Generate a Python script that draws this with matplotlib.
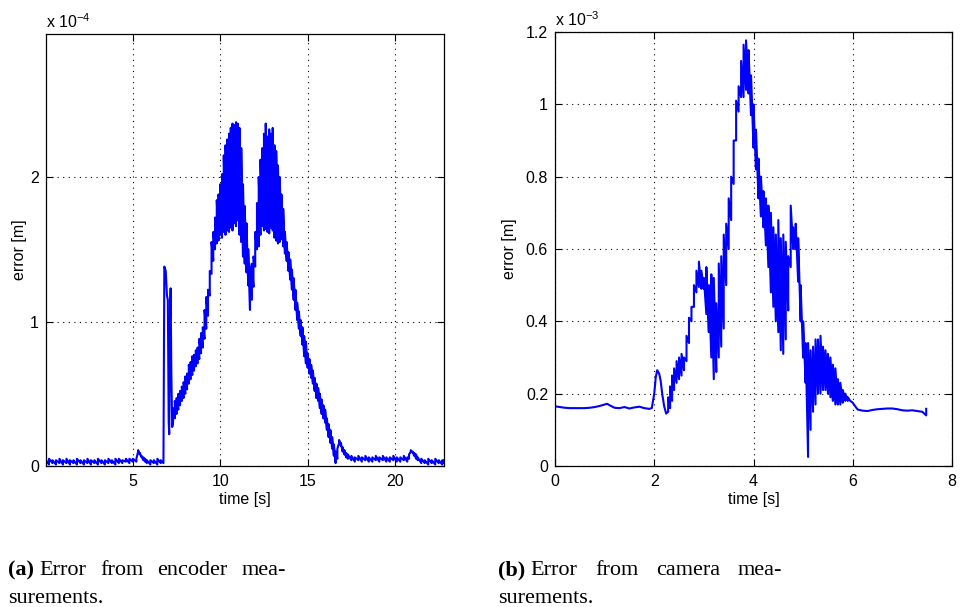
import numpy as np
import matplotlib
matplotlib.use("Agg")
import matplotlib.pyplot as plt

# ---------------- data: encoder error (x 1e-4 m) ----------------
# each sample: time, lower and upper value of the fast oscillation
enc_t = [0.03, 0.2, 0.4, 0.6, 0.8, 1.0, 1.2, 1.4, 1.6, 1.8, 2.0, 2.2, 2.4, 2.6, 2.8, 3.0,
         3.2, 3.4, 3.6, 3.8, 4.0, 4.2, 4.4, 4.6, 4.8, 5.0, 5.2, 5.3, 5.4, 5.5, 5.6, 5.7,
         5.8, 6.0, 6.2, 6.4, 6.6, 6.75, 6.80, 6.88, 6.95, 7.0, 7.05, 7.08, 7.12, 7.16,
         7.2, 7.25,
         7.3, 7.4, 7.5, 7.6, 7.7, 7.8, 7.9, 8.0, 8.1, 8.2, 8.3, 8.4, 8.5, 8.6, 8.7, 8.8,
         8.9, 9.0, 9.1, 9.2, 9.3, 9.4, 9.5, 9.6, 9.7, 9.8, 9.9, 10.0, 10.1, 10.2, 10.3,
         10.4, 10.5, 10.6, 10.7, 10.8, 10.9, 11.0, 11.1, 11.2, 11.3, 11.4, 11.5, 11.6,
         11.7, 11.8, 11.9, 12.0, 12.1, 12.2, 12.3, 12.4, 12.5, 12.6, 12.7, 12.8, 12.9,
         13.0, 13.1, 13.2, 13.3, 13.4, 13.5, 13.6, 13.7, 13.8, 13.9, 14.0, 14.1, 14.2,
         14.3, 14.4, 14.5, 14.6, 14.7, 14.8, 14.9, 15.0, 15.1, 15.2, 15.3, 15.4, 15.5,
         15.6, 15.7, 15.8, 15.9, 16.0, 16.1, 16.2, 16.3, 16.4, 16.5, 16.6, 16.7, 16.8,
         16.9, 17.0, 17.1, 17.2, 17.3, 17.5, 17.7, 17.9, 18.1, 18.3, 18.5, 18.7, 18.9,
         19.1, 19.3, 19.5, 19.7, 19.9, 20.1, 20.3, 20.5, 20.7, 20.8, 20.9, 21.0, 21.1,
         21.2, 21.3, 21.5, 21.7, 21.9, 22.1, 22.3, 22.5, 22.7, 22.8]
enc_lo = [0.02, 0.01, 0.02, 0.01, 0.02, 0.01, 0.02, 0.01, 0.02, 0.01, 0.02, 0.01, 0.02, 0.01, 0.02, 0.01,
          0.02, 0.01, 0.02, 0.02, 0.01, 0.02, 0.02, 0.03, 0.02, 0.03, 0.03, 0.10, 0.08, 0.06, 0.04, 0.03,
          0.02, 0.01, 0.02, 0.01, 0.02, 0.02, 1.38, 1.35, 1.18, 1.15, 0.30, 0.22, 1.00, 1.23,
          0.65, 0.27,
          0.30, 0.33, 0.36, 0.39, 0.42, 0.45, 0.47, 0.50, 0.53, 0.57, 0.60, 0.63, 0.66, 0.69, 0.71, 0.74,
          0.78, 0.82, 0.88, 0.95, 1.04, 1.18, 1.33, 1.42, 1.50, 1.54, 1.56, 1.60, 1.58, 1.62, 1.60,
          1.63, 1.62, 1.65, 1.63, 1.68, 1.66, 1.70, 1.60, 1.55, 1.45, 1.40, 1.34, 1.25,
          1.08, 1.15, 1.24, 1.38, 1.50, 1.52, 1.60, 1.66, 1.63, 1.64, 1.62, 1.61, 1.65,
          1.63, 1.58, 1.56, 1.54, 1.55, 1.57, 1.52, 1.47, 1.42, 1.35, 1.29, 1.22, 1.15,
          1.08, 1.01, 0.95, 0.90, 0.84, 0.76, 0.71, 0.68, 0.64, 0.61, 0.57, 0.52, 0.47,
          0.45, 0.40, 0.36, 0.33, 0.30, 0.25, 0.20, 0.16, 0.12, 0.07, 0.02, 0.05, 0.16,
          0.14, 0.10, 0.08, 0.06, 0.05, 0.04, 0.03, 0.04, 0.03, 0.04, 0.03, 0.03, 0.04,
          0.03, 0.04, 0.03, 0.03, 0.04, 0.03, 0.03, 0.04, 0.03, 0.05, 0.10, 0.09, 0.07,
          0.05, 0.04, 0.02, 0.02, 0.01, 0.02, 0.01, 0.02, 0.01, 0.02]
enc_hi = [0.04, 0.05, 0.04, 0.04, 0.05, 0.04, 0.05, 0.04, 0.04, 0.05, 0.04, 0.04, 0.05, 0.04, 0.04, 0.05,
          0.04, 0.04, 0.05, 0.04, 0.05, 0.05, 0.04, 0.05, 0.05, 0.05, 0.05, 0.11, 0.09, 0.07, 0.06, 0.05,
          0.04, 0.04, 0.04, 0.05, 0.04, 0.05, 1.38, 1.35, 1.18, 1.15, 0.30, 0.22, 1.00, 1.23,
          0.65, 0.27,
          0.40, 0.45, 0.47, 0.50, 0.52, 0.55, 0.58, 0.62, 0.64, 0.70, 0.72, 0.76, 0.77, 0.80, 0.82, 0.88,
          0.92, 0.96, 1.08, 1.17, 1.22, 1.35, 1.55, 1.62, 1.72, 1.84, 1.88, 1.95, 2.02, 2.15, 2.22,
          2.26, 2.30, 2.34, 2.37, 2.36, 2.38, 2.37, 2.34, 2.20, 1.95, 1.80, 1.68, 1.50,
          1.38, 1.40, 1.45, 1.62, 1.82, 2.00, 2.12, 2.20, 2.30, 2.37, 2.28, 2.33, 2.30,
          2.34, 2.22, 2.18, 2.08, 2.00, 1.88, 1.78, 1.62, 1.55, 1.48, 1.43, 1.36, 1.30,
          1.22, 1.13, 1.07, 1.01, 0.96, 0.90, 0.86, 0.78, 0.74, 0.70, 0.66, 0.61, 0.57,
          0.54, 0.50, 0.46, 0.42, 0.39, 0.33, 0.29, 0.25, 0.20, 0.15, 0.10, 0.12, 0.18,
          0.16, 0.13, 0.11, 0.09, 0.08, 0.07, 0.06, 0.07, 0.06, 0.07, 0.06, 0.06, 0.07,
          0.06, 0.07, 0.06, 0.06, 0.07, 0.06, 0.06, 0.07, 0.06, 0.08, 0.11, 0.10, 0.09,
          0.08, 0.06, 0.05, 0.04, 0.05, 0.04, 0.05, 0.04, 0.04, 0.04]

# ---------------- data: camera error (x 1e-3 m) ----------------
cam_t = [0.0, 0.1, 0.2, 0.3, 0.4, 0.5, 0.6, 0.7, 0.8, 0.9, 1.0, 1.05, 1.1, 1.2, 1.3, 1.4,
         1.5, 1.6, 1.7, 1.8, 1.9, 1.95, 2.0, 2.03, 2.06, 2.1, 2.13, 2.16, 2.2, 2.24,
         2.28, 2.32, 2.36, 2.40, 2.45, 2.50, 2.55, 2.60, 2.65, 2.70, 2.75, 2.80, 2.85,
         2.90, 2.95, 3.00, 3.05, 3.10, 3.15, 3.20, 3.25, 3.30, 3.35, 3.40, 3.45, 3.50,
         3.55, 3.60, 3.65, 3.70, 3.75, 3.80, 3.85, 3.90, 3.95, 4.00, 4.05, 4.10, 4.15,
         4.20, 4.25, 4.30, 4.35, 4.40, 4.45, 4.50, 4.55, 4.60, 4.65, 4.70, 4.75, 4.80,
         4.85, 4.90, 4.95, 5.00, 5.05, 5.10, 5.15, 5.20, 5.25, 5.30, 5.35, 5.40, 5.45,
         5.50, 5.55, 5.60, 5.65, 5.70, 5.75, 5.80, 5.85, 5.90, 5.95, 6.00, 6.05, 6.1,
         6.2, 6.3, 6.4, 6.5, 6.6, 6.7, 6.8, 6.9, 7.0, 7.1, 7.2, 7.3, 7.4, 7.48]
cam_lo = [0.165, 0.163, 0.161, 0.160, 0.160, 0.160, 0.160, 0.161, 0.163, 0.166, 0.170, 0.172, 0.168, 0.161, 0.160, 0.163,
          0.159, 0.162, 0.164, 0.160, 0.158, 0.160, 0.200, 0.245, 0.265, 0.255, 0.235, 0.200, 0.165, 0.145,
          0.15, 0.16, 0.18, 0.21, 0.23, 0.24, 0.25, 0.265, 0.29, 0.34, 0.40, 0.44, 0.48,
          0.495, 0.49, 0.49, 0.42, 0.37, 0.30, 0.24, 0.26, 0.30, 0.33, 0.38, 0.50, 0.60,
          0.68, 0.78, 0.90, 0.98, 1.02, 1.02, 1.04, 1.03, 0.97, 0.88, 0.82, 0.74, 0.69,
          0.66, 0.61, 0.55, 0.48, 0.44, 0.40, 0.37, 0.32, 0.31, 0.35, 0.43, 0.55, 0.60,
          0.60, 0.51, 0.40, 0.30, 0.23, 0.025, 0.10, 0.15, 0.17, 0.20, 0.20, 0.21, 0.21,
          0.20, 0.19, 0.18, 0.17, 0.17, 0.17, 0.175, 0.18, 0.18, 0.18, 0.175, 0.165, 0.156,
          0.153, 0.152, 0.155, 0.157, 0.158, 0.159, 0.159, 0.157, 0.154, 0.153, 0.154, 0.152, 0.150, 0.140]
cam_hi = [0.165, 0.163, 0.161, 0.160, 0.160, 0.160, 0.160, 0.161, 0.163, 0.166, 0.170, 0.172, 0.168, 0.161, 0.160, 0.163,
          0.159, 0.162, 0.164, 0.160, 0.158, 0.160, 0.200, 0.245, 0.265, 0.255, 0.235, 0.200, 0.165, 0.145,
          0.19, 0.22, 0.25, 0.27, 0.29, 0.30, 0.31, 0.30, 0.36, 0.41, 0.44, 0.50, 0.54,
          0.565, 0.54, 0.52, 0.55, 0.50, 0.53, 0.52, 0.45, 0.56, 0.58, 0.64, 0.67, 0.74,
          0.80, 0.90, 1.01, 1.05, 1.12, 1.165, 1.177, 1.15, 1.08, 1.00, 0.93, 0.85, 0.80,
          0.76, 0.74, 0.72, 0.70, 0.66, 0.64, 0.68, 0.63, 0.64, 0.62, 0.58, 0.72, 0.66,
          0.67, 0.63, 0.50, 0.40, 0.34, 0.34, 0.32, 0.33, 0.35, 0.35, 0.36, 0.33, 0.32,
          0.31, 0.30, 0.28, 0.27, 0.24, 0.23, 0.21, 0.20, 0.19, 0.18, 0.175, 0.165, 0.156,
          0.153, 0.152, 0.155, 0.157, 0.158, 0.159, 0.159, 0.157, 0.154, 0.153, 0.154, 0.152, 0.150, 0.158]

enc_xticks = [5, 10, 15, 20]
enc_yticks = [0, 1, 2]
cam_xticks = [0, 2, 4, 6, 8]
cam_yticks = [0, 0.2, 0.4, 0.6, 0.8, 1.0, 1.2]
cam_yticklabels = ["0", "0.2", "0.4", "0.6", "0.8", "1", "1.2"]

x_label = "time [s]"
y_label = "error [m]"
caption_a = ["(a)", "Error", "from", "encoder", "mea-"]
caption_a2 = "surements."
caption_b = ["(b)", "Error", "from", "camera", "mea-"]
caption_b2 = "surements."


def zigzag(t, lo, hi):
    x = np.repeat(np.asarray(t, float), 2)
    y = np.column_stack([lo, hi]).ravel()
    return x, y


plt.rcParams["font.family"] = ["Liberation Sans", "DejaVu Sans"]
plt.rcParams["mathtext.fontset"] = "custom"
plt.rcParams["mathtext.rm"] = "Liberation Sans"

FS = 11.5
fig = plt.figure(figsize=(9.6, 6.07), dpi=100)
ax1 = fig.add_axes([46 / 960, 1 - 466 / 607, 398 / 960, 432 / 607])
ax2 = fig.add_axes([555 / 960, 1 - 466 / 607, 397 / 960, 434 / 607])


def style(ax, ylpad):
    ax.grid(True, linestyle=(0, (1, 4)), color="black", linewidth=0.8)
    ax.tick_params(direction="in", top=True, right=True, length=5, width=0.8,
                   labelsize=FS)
    ax.tick_params(axis="x", pad=6)
    ax.tick_params(axis="y", pad=5)
    for s in ax.spines.values():
        s.set_linewidth(0.9)
    ax.set_xlabel(x_label, fontsize=FS, labelpad=2)
    ax.set_ylabel(y_label, fontsize=FS, labelpad=ylpad)


x, y = zigzag(enc_t, enc_lo, enc_hi)
ax1.plot(x, y, color="#0000ff", linewidth=1.5)
ax1.set_xlim(0.03, 22.8)
ax1.set_ylim(0, 2.99)
ax1.set_xticks(enc_xticks)
ax1.set_yticks(enc_yticks)
style(ax1, 2)
ax1.text(0.0, 1.008, r"x 10$^{-4}$", transform=ax1.transAxes, fontsize=FS,
         ha="left", va="bottom")

x, y = zigzag(cam_t, cam_lo, cam_hi)
ax2.plot(x, y, color="#0000ff", linewidth=1.5)
ax2.set_xlim(0, 8)
ax2.set_ylim(0, 1.2)
ax2.set_xticks(cam_xticks)
ax2.set_yticks(cam_yticks)
ax2.set_yticklabels(cam_yticklabels)
style(ax2, 6)
ax2.text(0.0, 1.008, r"x 10$^{-3}$", transform=ax2.transAxes, fontsize=FS,
         ha="left", va="bottom")

serif = ["Liberation Serif", "DejaVu Serif"]
CFS = 16


def caption(x0_px, x1_px, words, line2):
    fig.canvas.draw()
    r = fig.canvas.get_renderer()
    y1 = 1 - 575 / 607
    arts = []
    for i, w in enumerate(words):
        a = fig.text(0, y1, w, fontsize=CFS, family=serif,
                     fontweight="bold" if i == 0 else "normal",
                     ha="left", va="baseline")
        arts.append(a)
    widths = [a.get_window_extent(r).width for a in arts]
    first_gap = 5
    gap = ((x1_px - x0_px) - sum(widths) - first_gap) / (len(words) - 2)
    xpos = x0_px
    for i, a in enumerate(arts):
        a.set_x(xpos / 960)
        xpos += widths[i] + (first_gap if i == 0 else gap)
    fig.text(x0_px / 960, 1 - 603 / 607, line2, fontsize=CFS, family=serif,
             ha="left", va="baseline")


caption(8, 286, caption_a, caption_a2)
caption(498, 782, caption_b, caption_b2)

fig.savefig("out.png", dpi=100)
